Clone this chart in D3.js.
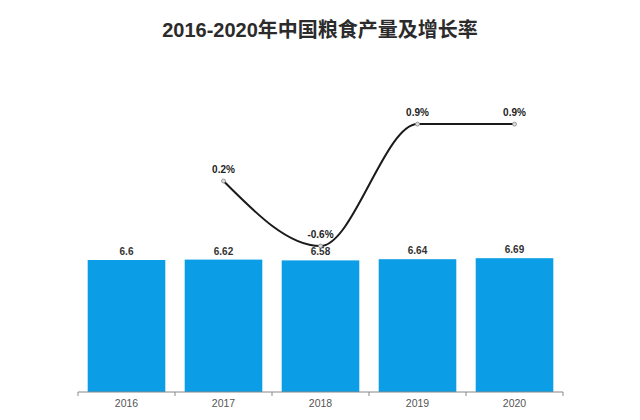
<!DOCTYPE html>
<html><head><meta charset="utf-8">
<script src="https://cdn.jsdelivr.net/npm/d3@7"></script>
<style>body{margin:0;background:#fff;}svg{display:block;}</style>
</head><body><svg id="c" width="640" height="420"></svg>
<script>
const years = ["2016","2017","2018","2019","2020"];
const output = [6.6, 6.62, 6.58, 6.64, 6.69];
const growthYears = ["2017","2018","2019","2020"];
const growth = [0.2, -0.6, 0.9, 0.9];
const growthLabels = ["0.2%","-0.6%","0.9%","0.9%"];

const svg = d3.select("#c");
const font = "'Liberation Sans', Arial, 'Noto Sans CJK SC', sans-serif";
const m = {left:78, right:77, top:112, bottom:392};

svg.append("text").attr("x",320).attr("y",37).attr("text-anchor","middle")
  .attr("font-family",font).attr("font-weight","bold").attr("font-size",20)
  .attr("fill","#2b2b2b").text("2016-2020年中国粮食产量及增长率");

const x = d3.scaleBand().domain(years).range([m.left, 640-m.right]).paddingInner(0.2).paddingOuter(0.1);
const y = d3.scaleLinear().domain([0,14]).range([m.bottom, m.top]);
const y2 = d3.scaleLinear().domain([-2.395,1.049]).range([m.bottom, m.top]);

svg.selectAll("rect.bar").data(years).join("rect").attr("class","bar")
  .attr("x",d=>x(d)).attr("width",x.bandwidth())
  .attr("y",(d,i)=>y(output[i])).attr("height",(d,i)=>m.bottom-y(output[i]))
  .attr("fill","#0b9de6");

svg.selectAll("text.bl").data(years).join("text").attr("class","bl")
  .attr("x",d=>x(d)+x.bandwidth()/2).attr("y",(d,i)=>y(output[i])-5)
  .attr("text-anchor","middle").attr("font-family",font).attr("font-weight","bold")
  .attr("font-size",10).attr("fill","#333").text((d,i)=>output[i]);

// axis
const axisG = svg.append("g").attr("transform",`translate(0,${m.bottom})`);
axisG.append("line").attr("x1",m.left).attr("x2",640-m.right).attr("stroke","#888");
const edges = d3.range(years.length+1).map(i=>m.left + i*(640-m.left-m.right)/years.length);
axisG.selectAll("line.t").data(edges).join("line").attr("class","t")
  .attr("x1",d=>d).attr("x2",d=>d).attr("y1",0).attr("y2",4).attr("stroke","#888");
axisG.selectAll("text").data(years).join("text")
  .attr("x",d=>x(d)+x.bandwidth()/2).attr("y",15).attr("text-anchor","middle")
  .attr("font-family",font).attr("font-size",10.5).attr("fill","#555").text(d=>d);

const cx = d=>x(d)+x.bandwidth()/2;
const line = d3.line().x((d,i)=>cx(growthYears[i])).y(d=>y2(d)).curve(d3.curveMonotoneX);
svg.append("path").attr("d",line(growth)).attr("fill","none").attr("stroke","#1a1a1a").attr("stroke-width",2);
svg.selectAll("circle.p").data(growth).join("circle").attr("class","p")
  .attr("cx",(d,i)=>cx(growthYears[i])).attr("cy",d=>y2(d)).attr("r",2)
  .attr("fill","#ddd").attr("stroke","#888").attr("stroke-width",0.8);
svg.selectAll("text.gl").data(growth).join("text").attr("class","gl")
  .attr("x",(d,i)=>cx(growthYears[i])).attr("y",d=>y2(d)-8)
  .attr("text-anchor","middle").attr("font-family",font).attr("font-weight","bold")
  .attr("font-size",10).attr("fill","#222").text((d,i)=>growthLabels[i]);
</script></body></html>
